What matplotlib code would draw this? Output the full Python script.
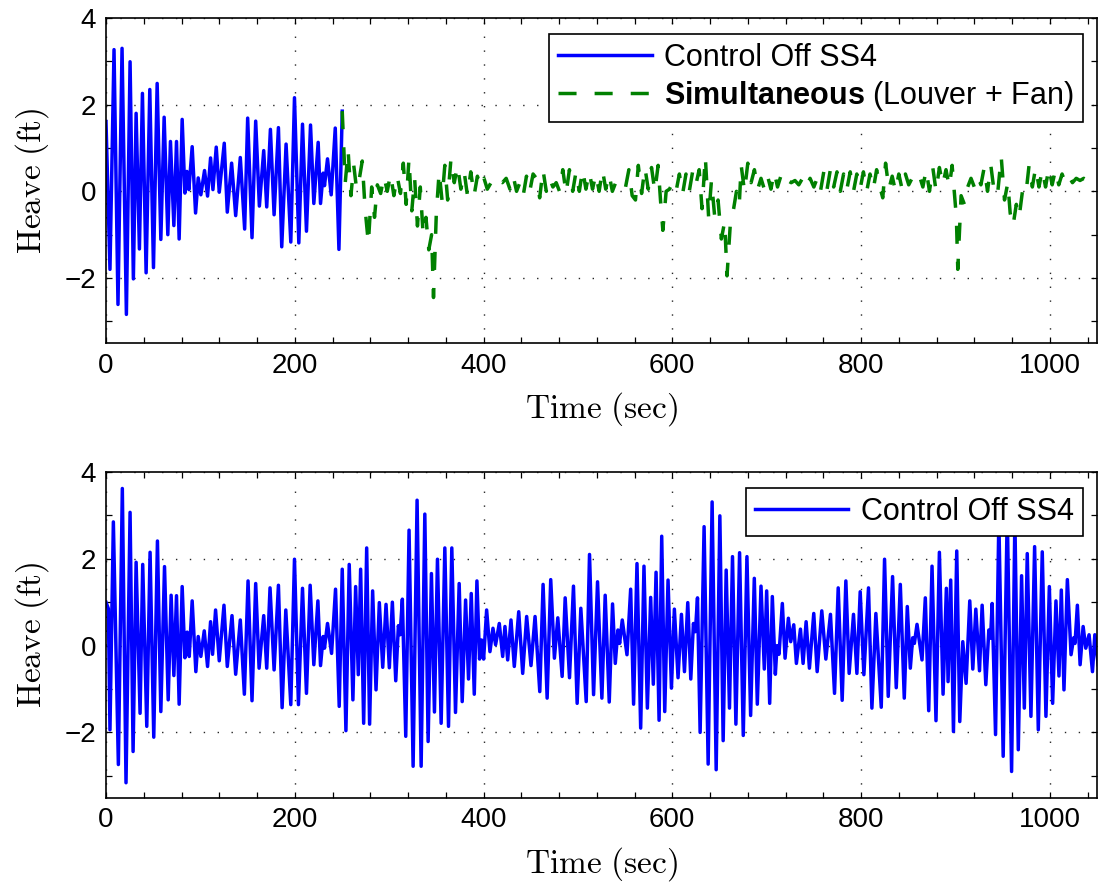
import matplotlib
matplotlib.use("Agg")
import matplotlib.pyplot as plt
from matplotlib.ticker import MultipleLocator

# heave history (turning points only)
top_blue_t = [0, 4.2, 8.5, 12.7, 17.0, 21.6, 25.5, 29.0, 31.9, 35.4, 38.6, 42.5, 46.4, 50.3, 54.2, 58.1,
              61.6, 65.5, 68.3, 71.9, 74.7, 77.5, 80.7, 83.6, 85.7, 87.8, 91.3, 94.9, 97.7, 100.5, 104.4,
              107.6, 110.8, 113.3, 116.8, 120.0, 125.3, 128.5, 133.1, 137.4, 142.3, 146.9, 150.1, 154.7,
              158.6, 162.5, 167.1, 170.3, 174.2, 178.1, 182.7, 186.2, 190.8, 195.8, 199.7, 204.3, 208.2,
              212.4, 216.7, 220.2, 224.8, 227.3, 230.1, 231.5, 234.7, 238.6, 242.9, 246.8, 250.3]
top_blue_v = [1.61, -1.8, 3.27, -2.61, 3.3, -2.84, 2.99, -2.02, 1.8, -1.33, 2.26, -1.88, 2.35, -1.76, 2.49, -1.11,
              1.71, -1.0, 1.15, -0.79, 1.15, -1.1, 1.66, -0.04, 0.46, 0.04, 1.03, -0.5, 0.31, -0.08, 0.48,
              -0.11, 0.77, 0.04, 1.02, -0.02, 1.11, -0.48, 0.65, -0.56, 0.78, -0.87, 1.69, -1.07,
              1.62, -0.34, 0.94, -0.36, 1.43, -0.54, 1.47, -1.28, 1.09, -1.17, 2.16, -1.19, 1.55,
              -0.92, 1.53, -0.28, 1.13, -0.28, 0.42, 0.13, 0.75, -0.08, 1.46, -1.34, 1.85]

green_t = [250.3, 253.5, 256.5, 259.5, 262.5, 265.5, 268.5, 271.5, 274.5, 278.0, 281.5, 284.5, 287.5, 291.0,
           294.5, 298.0, 301.5, 305.0, 308.5, 312.0, 315.0, 318.0, 321.0, 324.0, 327.0, 330.0, 333.0, 336.0,
           339.0, 342.0, 345.0, 347.0, 350.0, 353.0, 356.0, 359.0, 362.0, 365.5, 369.0, 372.5, 376.0, 379.5,
           383.0, 386.5, 390.0, 393.5, 397.0, 400.5, 404.0, 408.0, 412.0, 416.0, 420.0, 424.0, 428.0, 431.5,
           435.0, 438.5, 442.0, 445.5, 449.0, 452.5, 456.0, 459.5, 463.0, 466.5, 470.0, 473.5, 477.0, 480.5,
           484.0, 487.5, 491.0, 494.5, 498.0, 501.5, 505.0, 508.5, 512.0, 515.5, 519.0, 522.5, 526.0, 529.5,
           533.0, 536.5, 540.0, 543.5, 547.0, 550.5, 554.0, 557.5, 561.0, 564.0, 567.5, 571.0, 574.5, 578.0,
           581.5, 585.0, 587.5, 590.0, 593.5, 597.0, 600.5, 604.0, 607.5, 611.0, 614.5, 618.0, 621.5, 625.0,
           628.5, 631.5, 635.0, 638.5, 641.5, 645.0, 648.5, 652.0, 655.5, 658.0, 661.5, 665.0, 668.0, 671.0,
           673.0, 676.5, 680.0, 683.5, 687.0, 690.5, 694.0, 697.5, 701.0, 704.5, 708.0, 711.5, 715.0, 718.5,
           722.0, 726.0, 730.0, 734.0, 738.0, 742.0, 746.0, 750.0, 753.5, 757.0, 760.5, 764.0, 767.5, 771.0,
           774.5, 778.0, 781.5, 785.0, 788.5, 792.0, 795.5, 799.0, 802.5, 806.0, 809.5, 813.0, 816.5, 820.0,
           823.0, 826.0, 829.5, 833.0, 836.5, 840.0, 843.5, 847.0, 850.5, 854.0, 858.0, 862.0, 865.5, 869.0,
           872.5, 876.0, 879.5, 883.0, 886.5, 890.0, 893.5, 896.5, 899.5, 901.0, 902.5, 906.0, 909.5, 913.0,
           916.5, 920.0, 923.5, 927.0, 930.5, 934.0, 937.5, 941.0, 944.5, 948.5, 952.0, 955.5, 958.0, 961.0,
           964.5, 967.5, 971.0, 974.5, 978.0, 981.5, 985.0, 988.5, 992.0, 995.5, 999.0, 1002.5, 1006.0,
           1009.5, 1013.0, 1016.5, 1020.0, 1024.0, 1028.0, 1032.0, 1036.0, 1040.0, 1044.0, 1048.0, 1051.0]
green_v = [1.85, 0.2, 0.95, -0.1, 0.6, 0.05, 0.3, 0.7, -0.4, -1.2, 0.1, -0.6, 0.15, -0.05,
           0.35, 0.0, 0.4, -0.1, 0.35, -0.05, 0.65, -0.3, 0.75, -0.45, 0.3, -0.8, 0.1, -1.0,
           -0.6, -1.35, -1.0, -2.45, -0.5, 0.45, -0.2, 0.6, -0.2, 0.75, 0.2, 0.6, 0.05, 0.45,
           -0.1, 0.45, -0.1, 0.35, 0.1, 0.3, 0.05, 0.2, 0.1, 0.25, 0.2, 0.3, 0.05, 0.35,
           0.0, 0.2, -0.1, 0.35, 0.0, 0.4, 0.3, -0.15, 0.5, 0.0, 0.3, 0.1, 0.2, 0.0,
           0.5, -0.05, 0.5, 0.0, 0.45, 0.0, 0.5, 0.05, 0.45, 0.05, 0.4, 0.0, 0.5, 0.05,
           0.4, 0.0, 0.2, 0.15, 0.25, 0.1, 0.5, -0.1, -0.2, 0.6, -0.05, 0.55, 0.05, 0.55,
           0.0, 0.6, -0.2, -0.9, 0.0, 0.05, 0.2, 0.0, 0.4, -0.05, 0.4, 0.0, 0.45, 0.15,
           0.5, -0.4, 0.8, -0.6, 0.25, -0.6, -0.2, -1.1, -0.7, -1.95, -0.75, -0.4, 0.0, -0.3,
           0.6, 0.0, 0.65, 0.2, 0.5, 0.05, 0.3, 0.05, 0.35, 0.05, 0.45, 0.1, 0.35, 0.15,
           0.25, 0.2, 0.25, 0.15, 0.3, 0.1, 0.3, 0.1, 0.3, 0.0, 0.45, 0.05, 0.5, 0.1,
           0.45, 0.0, 0.4, 0.05, 0.45, 0.0, 0.4, 0.05, 0.45, 0.0, 0.4, 0.05, 0.5, 0.1,
           -0.15, 0.65, 0.05, 0.35, 0.0, 0.4, 0.05, 0.4, 0.15, 0.3, 0.2, 0.35, 0.1, 0.5,
           0.0, 0.55, 0.0, 0.55, 0.15, 0.5, 0.1, 0.6, -0.2, -0.6, -1.8, -0.1, -0.3, 0.1,
           0.3, 0.1, 0.35, 0.15, 0.55, 0.0, 0.6, 0.0, -0.1, 0.8, -0.2, 0.2, -0.5, -0.8,
           -0.3, -0.6, 0.0, -0.1, 0.6, 0.1, 0.55, 0.1, 0.5, 0.1, 0.55, 0.15, 0.5,
           0.15, 0.4, 0.2, 0.35, 0.2, 0.3, 0.25, 0.3, 0.25, 0.3, 0.25, 0.3]

bot_t = [0, 2.5, 4.2, 7.8, 13.1, 17.3, 21.2, 25.5, 28.7, 31.9, 36.1, 38.9, 43.2, 46.7, 50.6, 54.5, 58.1,
         62.0, 65.9, 69.0, 71.9, 74.7, 77.5, 80.7, 83.6, 86.0, 88.2, 91.3, 95.2, 97.7, 100.5, 104.1, 107.6,
         110.8, 112.9, 116.1, 120.0, 125.0, 128.5, 133.5, 137.4, 142.3, 146.6, 150.5, 154.7, 158.6, 162.2,
         167.1, 170.3, 173.8, 178.1, 182.7, 186.6, 190.5, 195.8, 199.7, 203.9, 208.2, 212.4, 216.3, 220.2,
         224.5, 227.3, 230.1, 231.5, 234.7, 239.0, 243.2, 247.1, 250.3, 254.2, 257.7,
         261.6, 264.5, 267.3, 269.8, 273.0, 276.2, 279.3, 282.5, 286.1, 289.6, 293.2, 296.7, 300.2, 303.4,
         307.0, 309.8, 311.6, 314.0, 317.6, 321.1, 325.4, 329.6, 333.9, 337.8, 341.3, 344.8, 348.0, 351.2,
         355.1, 359.0, 362.9, 366.4, 370.3, 374.2, 377.4, 381.0, 384.1, 387.0, 390.2, 393.0, 395.8, 397.9,
         400.1, 403.3, 406.8, 410.0, 412.8, 416.7, 420.3, 422.7, 425.6, 429.1, 432.6, 437.3, 441.5, 445.7,
         450.3, 454.6, 459.6, 463.1, 467.4, 471.2, 475.1, 478.7, 483.3, 486.5, 491.1, 495.3, 499.2, 503.1,
         508.8, 512.3, 516.6, 520.8,
         525.4, 528.9, 533.2, 536.7, 539.6, 542.4, 544.2, 547.0, 552.0, 555.9, 559.0, 562.6, 566.5, 570.0,
         573.6, 577.1, 579.9, 582.8, 586.0, 588.8, 592.0, 595.5, 599.1, 602.2, 606.1, 609.7, 612.9, 616.4,
         619.6, 622.4, 624.5, 626.7, 629.5, 633.7, 638.0, 642.2, 646.5, 650.4, 653.9, 657.1, 660.6, 663.8,
         667.4, 671.3, 675.2, 679.1, 683.0, 686.9, 690.1, 694.0, 697.5, 700.0, 703.2, 706.0, 709.2, 711.0,
         713.1, 716.6, 719.5, 723.0, 725.5, 728.7, 731.5, 735.8, 738.6, 741.8, 745.3, 749.9, 753.5, 758.4,
         762.7, 767.6, 771.9, 775.8, 780.0, 783.9,
         787.4, 792.0, 795.6, 799.1, 803.0, 807.9, 811.5, 815.7, 821.4, 824.9, 828.8, 833.4, 837.3, 841.6,
         845.8, 849.0, 852.2, 854.7, 856.5, 859.3, 864.6, 868.1, 871.7, 875.2, 879.4, 883.0, 886.9, 890.4,
         892.2, 895.0, 897.9, 901.4, 904.6, 907.8, 911.3, 915.2, 918.4, 921.6, 925.5, 928.3, 932.2, 935.4,
         937.2, 938.9, 942.5, 946.0, 950.6, 954.9, 959.5, 963.0, 966.6, 970.1, 973.0, 976.1, 980.0, 983.9,
         987.8, 992.0, 995.9, 999.5, 1003.0, 1006.5, 1009.7, 1012.2, 1015.0, 1018.6, 1022.5, 1025.3, 1026.7,
         1029.2, 1032.1, 1035.3, 1038.1, 1041.6, 1045.2, 1047.7, 1051.2]
bot_v = [1.0, 0.85, -1.94, 2.85, -2.74, 3.62, -3.16, 3.07, -2.44, 1.92, -1.56, 1.87, -1.86, 2.15, -2.11, 2.41, -1.52,
         1.82, -1.25, 1.16, -0.69, 1.15, -1.35, 1.36, -0.28, 0.31, -0.25, 1.03, -0.6, 0.21, -0.25, 0.34, -0.48,
         0.55, -0.2, 0.82, -0.35, 0.93, -0.48, 0.69, -0.66, 0.59, -1.12, 1.49, -1.27, 1.43, -0.52,
         0.69, -0.52, 1.33, -0.56, 1.39, -1.43, 0.82, -1.36, 1.99, -1.36, 1.32, -1.1, 1.39, -0.44,
         1.03, -0.46, 0.21, -0.06, 0.51, -0.18, 1.3, -1.4, 1.76, -1.96, 1.87,
         -1.25, 1.36, -0.67, 1.76, -1.79, 2.25, -1.81, 1.26, -1.02, 0.99, -0.5, 0.95, -0.51, 1.0,
         -0.81, 0.46, 0.25, 1.07, -2.09, 2.66, -2.78, 3.35, -2.78, 3.03, -2.21, 1.66, -1.53, 1.99,
         -1.79, 2.25, -1.86, 2.25, -1.54, 1.43, -1.29, 1.05, -0.77, 1.2, -1.12, 1.49, -0.31, 0.13,
         -0.31, 0.82, -0.14, 0.4, 0.02, 0.51, -0.25, 0.44, -0.33, 0.59, -0.48, 0.78, -0.64, 0.67,
         -0.46, 0.67, -1.06, 1.41, -1.21, 1.52, -0.29, 0.64, -0.71, 1.1, -0.74, 1.37, -1.33, 0.86,
         -1.29, 2.1, -1.13, 1.47,
         -1.21, 1.16, -1.3, 0.96, -0.41, 0.36, 0.05, 0.59, -0.21, 1.3, -1.35, 1.89, -1.9, 1.83,
         -1.44, 1.11, -0.89, 1.69, -1.72, 2.52, -1.52, 1.51, -0.98, 0.84, -0.74, 0.72, -0.6, 0.99,
         -0.77, 0.51, 0.32, 1.1, -2.0, 2.74, -2.73, 3.31, -2.86, 2.99, -2.19, 1.74, -1.44, 2.05,
         -1.81, 2.14, -2.07, 2.05, -1.61, 1.55, -1.35, 1.37, -0.54, 1.26, -1.33, 1.13, -0.66, 0.0,
         -0.2, 0.97, -0.29, 0.63, 0.09, 0.48, -0.41, 0.38, -0.41, 0.55, -0.52, 0.74, -0.6, 0.8,
         -0.31, 0.72, -1.1, 1.33, -1.26, 1.49,
         -0.64, 0.72, -0.64, 1.24, -0.67, 1.33, -1.44, 0.74, -1.42, 1.99, -1.17, 1.59, -0.97, 1.41,
         -1.21, 0.9, -0.52, 0.18, 0.05, 0.49, -0.33, 1.1, -1.5, 1.83, -1.73, 2.15, -1.12, 1.32,
         -0.83, 1.51, -1.98, 2.18, -1.75, 0.09, -0.87, 1.03, -0.54, 0.84, -0.58, 0.93, -0.9, 0.36,
         0.17, 0.97, -2.05, 2.9, -2.55, 3.05, -2.9, 2.9, -2.4, 1.61, -1.44, 2.12, -1.63, 2.28,
         -1.94, 2.16, -1.63, 1.36, -1.33, 1.03, -0.7, 1.28, -1.02, 1.52, -0.21, 0.18, 0.05,
         0.93, -0.44, 0.44, -0.06, 0.25, -0.6, 0.25, -0.44]

x_major = [0, 200, 400, 600, 800, 1000]
y_major = [-2, 0, 2, 4]

plt.rcParams['font.family'] = ['Liberation Sans', 'DejaVu Sans']
plt.rcParams['mathtext.fontset'] = 'custom'
plt.rcParams['mathtext.rm'] = 'Liberation Sans'
plt.rcParams['mathtext.bf'] = 'Liberation Sans:bold'

fig = plt.figure(figsize=(10.99, 8.9), dpi=100)
W, H = 1099.0, 890.0
ax1 = fig.add_axes([106 / W, 1 - 343 / H, (1097 - 106) / W, 325 / H])
ax2 = fig.add_axes([106 / W, 1 - 797.5 / H, (1097 - 106) / W, 325.5 / H])

blue = (0, 0, 1)
green = (0, 0.5, 0)

ax1.plot(top_blue_t, top_blue_v, color=blue, lw=2.5, label='Control Off SS4')
ax1.plot(green_t, green_v, color=green, lw=2.5, dashes=(5.2, 5.2),
         label=r'$\mathbf{Simultaneous}$ (Louver + Fan)')
ax2.plot(bot_t, bot_v, color=blue, lw=2.5, label='Control Off SS4')

for ax in [ax1, ax2]:
    ax.set_xlim(0, 1050)
    ax.set_ylim(-3.5, 4)
    ax.set_xticks(x_major)
    ax.set_yticks(y_major)
    ax.xaxis.set_minor_locator(MultipleLocator(40))
    ax.yaxis.set_minor_locator(MultipleLocator(1))
    ax.tick_params(which='both', direction='in', top=True, right=True,
                   length=4.2, width=0.9, labelsize=20, pad=7)
    ax.grid(True, which='major', color='0.15', linestyle=(0, (1, 9)), lw=1.0)
    for s in ax.spines.values():
        s.set_linewidth(1.2)
    ax.set_xlabel(r'$\mathrm{Time\ (sec)}$', fontsize=24, math_fontfamily='cm')
    ax.set_ylabel(r'$\mathrm{Heave\ (ft)}$', fontsize=24, math_fontfamily='cm')
    ax.xaxis.set_label_coords(0.5, -0.145)
    ax.yaxis.set_label_coords(-0.056, 0.5)
    leg = ax.legend(loc='upper right', bbox_to_anchor=(0.986, 0.952), borderaxespad=0,
                    fontsize=22, fancybox=False, framealpha=1, edgecolor='black',
                    handlelength=3.05, handletextpad=0.42, borderpad=0.3, labelspacing=0.2)
    leg.get_frame().set_linewidth(1.2)

fig.savefig('out.png', dpi=100)
